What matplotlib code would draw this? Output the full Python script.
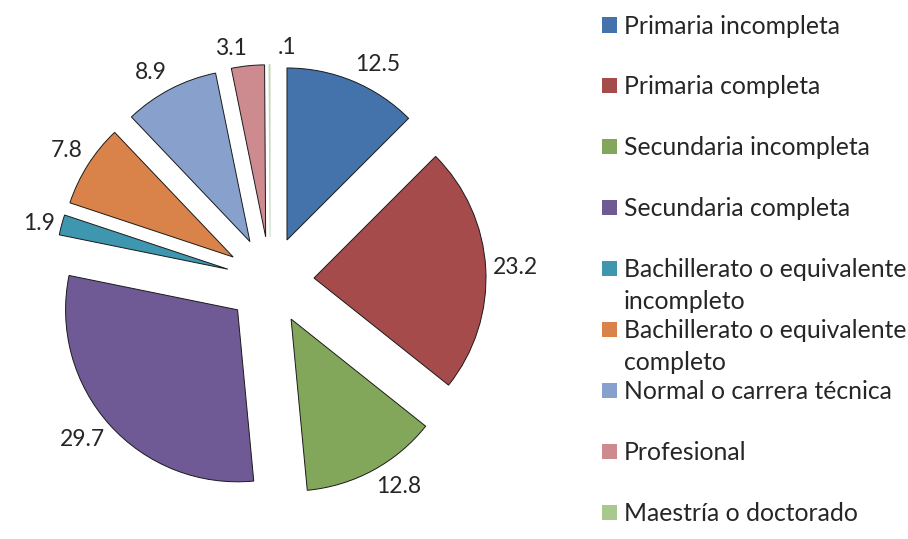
import matplotlib.pyplot as plt
import numpy as np
from matplotlib.patches import Rectangle

plt.rcParams['font.family'] = ['Lato', 'DejaVu Sans']
text_color = '#262626'

categories = ['Primaria incompleta', 'Primaria completa', 'Secundaria incompleta',
              'Secundaria completa', 'Bachillerato o equivalente\nincompleto',
              'Bachillerato o equivalente\ncompleto', 'Normal o carrera técnica',
              'Profesional', 'Maestría o doctorado']
values = [12.5, 23.2, 12.8, 29.7, 1.9, 7.8, 8.9, 3.1, 0.1]
value_labels = ['12.5', '23.2', '12.8', '29.7', '1.9', '7.8', '8.9', '3.1', '.1']
colors = ['#4373AA', '#A64B4B', '#82A75B', '#6F5A96', '#3F97AF',
          '#D9834A', '#87A1CC', '#CD8A8F', '#A8C88F']

W, H = 908, 539
fig = plt.figure(figsize=(W / 100, H / 100), dpi=100)

# pie axes: 1 data unit = 172 px, centre at (270, 280.5) px
R = 172.0
ax_w = 560
ax = fig.add_axes([0, 0, ax_w / W, 1])
explode_amt = 0.255
wedges, _ = ax.pie(values, colors=colors, startangle=90, counterclock=False,
                   explode=[explode_amt] * len(values),
                   wedgeprops=dict(edgecolor='#1a1a1a', linewidth=0.7))
wedges[-1].set_edgecolor('#c8d8c0')
cx, cy = 270.2 / R, (H - 280.5) / R
ax.set_xlim(-cx, ax_w / R - cx)
ax.set_ylim(-cy, H / R - cy)
ax.set_aspect('auto')
ax.axis('off')

# value labels placed outside the arc of each exploded wedge
total = sum(values)
cum = 0
for v, lab in zip(values, value_labels):
    mid = 90 - (cum + v / 2) / total * 360
    cum += v
    dx, dy = np.cos(np.radians(mid)), np.sin(np.radians(mid))
    r = 1 + explode_amt + 0.04
    ha = 'left' if dx > -0.01 else ('right' if dx < -0.05 else 'center')
    if abs(dx) > 0.3 or abs(dx) < 0.01:
        ha = 'left' if dx > -0.01 else 'right'
    va = 'bottom' if dy > 0.3 else ('top' if dy < -0.3 else 'center')
    ax.text(r * dx + (0.05 if abs(dx) < 0.01 else 0), r * dy, lab,
            ha=ha, va=va, fontsize=16.5, color=text_color)

# legend drawn as equal-height slots
lx, ly0, step = 602, 25, 60.9
for i, (lab, col) in enumerate(zip(categories, colors)):
    y = ly0 + i * step
    fig.patches.append(Rectangle((lx / W, 1 - (y + 7.5) / H), 15 / W, 15 / H,
                                 transform=fig.transFigure, facecolor=col,
                                 edgecolor='none'))
    for j, line in enumerate(lab.split('\n')):
        fig.text(624 / W, 1 - (y + 1 + j * 32) / H, line, ha='left', va='center',
                 fontsize=17.8, color=text_color)

fig.savefig('out.png', dpi=100, facecolor='white')
